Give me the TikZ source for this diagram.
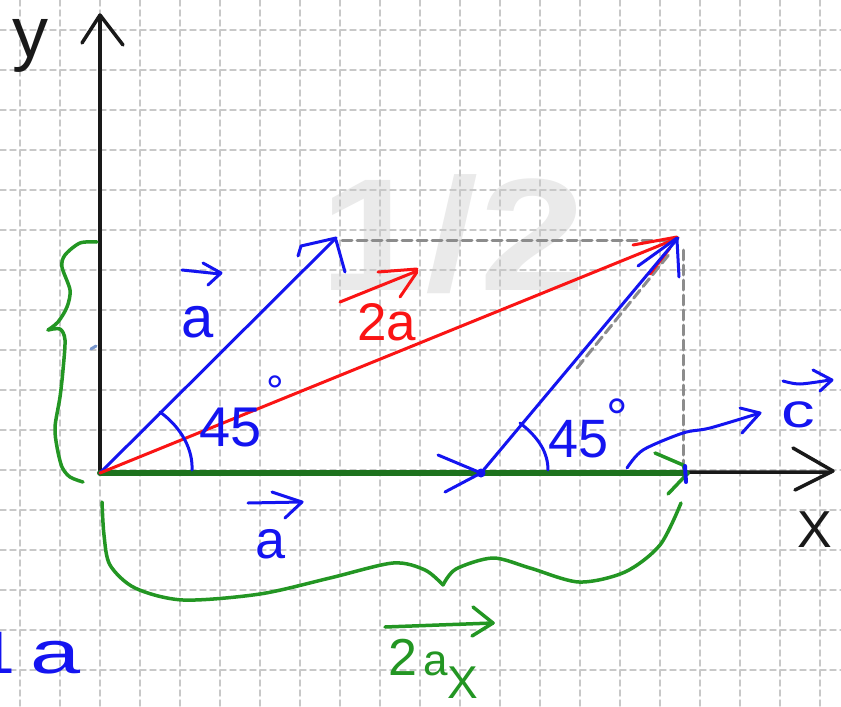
\documentclass[tikz,border=0pt]{standalone}
\usepackage{fontspec}
\setmainfont{Liberation Sans}
\definecolor{pblue}{RGB}{20,20,240}
\definecolor{pred}{RGB}{250,20,20}
\definecolor{pgreen}{RGB}{35,150,35}
\definecolor{pgreendk}{RGB}{30,115,30}
\definecolor{paxis}{RGB}{25,25,25}
\definecolor{pgrid}{RGB}{200,200,200}
\definecolor{pcons}{RGB}{140,140,140}
\definecolor{pwm}{RGB}{234,234,234}
\definecolor{ptick}{RGB}{120,150,205}
\tikzset{
  gridline/.style={draw=pgrid, line width=1.4pt, dash pattern=on 6pt off 4pt},
  cons/.style={draw=pcons, line width=3pt, dash pattern=on 10pt off 5pt},
  axisline/.style={draw=paxis, line width=3.5pt},
  bl/.style={draw=pblue, line width=3pt},
  rd/.style={draw=pred, line width=3pt},
  gr/.style={draw=pgreen, line width=3.5pt},
  grthick/.style={draw=pgreendk, line width=6pt},
  lbl/.style={inner sep=0pt, anchor=base west},
}
\newcommand{\fs}[1]{\fontsize{#1}{#1}\selectfont}
\begin{document}
\begin{tikzpicture}[x=1pt, y=-1pt, line cap=round, line join=round]
\useasboundingbox (0,0) rectangle (841,707);
\clip (0,0) rectangle (841,707);
\fill[white] (0,0) rectangle (841,707);
% watermark
\node[lbl, font=\fs{160}\bfseries, text=pwm, xscale=1.2] (wm) at (319,290) {1/2};
% grid
\foreach \x in {20,60,...,820} \draw[gridline] (\x,0) -- (\x,707);
\foreach \y in {30,70,...,670} \draw[gridline] (0,\y) -- (841,\y);
% points
\coordinate (O) at (100,473);
\coordinate (A) at (336,238);
\coordinate (B) at (678,238);
\coordinate (M) at (481,473);
\coordinate (E) at (687,473);
\coordinate (Yt) at (100,18);
\coordinate (Xt) at (831,472);
\coordinate (h1) at (342,240);
\coordinate (h2) at (672,240);
\coordinate (v1) at (683,250);
\coordinate (v2) at (683,472);
\coordinate (d1) at (577,368);
\coordinate (d2) at (671,252);
% construction lines
\draw[cons] (h1) -- (h2);
\draw[cons] (v1) -- (v2);
\draw[cons] (d1) -- (d2);
% axes
\draw[axisline] (O) -- (Yt);
\draw[axisline] (82,43) -- (100,15) -- (123,45);
\draw[axisline] (O) -- (Xt);
\draw[axisline] (793,448) -- (833,471) -- (795,490);
% green resultant along x
\draw[grthick] (O) -- (E);
\draw[gr] (655,453) -- (683,465) -- (687,474) -- (668,494);
\draw[draw=pblue, line width=4pt] (685,466) -- (686,482);
% blue a along x (arrow head at M)
\draw[bl] (438,455) -- (M) -- (445,492);
\fill[pblue] (M) circle (4.5);
% blue a from origin
\draw[bl] (O) -- (A);
\draw[bl] (298,256) -- (301,246) -- (336,238);
\draw[bl] (336,240) -- (345,272);
% red 2a
\draw[rd] (O) -- (B);
\draw[rd] (633,245) -- (677,237);
\draw[rd] (650,274) -- (670,248);
% blue a from M
\draw[bl] (M) -- (B);
\draw[bl] (638,266) -- (677,238);
\draw[bl] (677,240) -- (679,277);
% angle arcs
\draw[bl] (160,412) .. controls (182,428) and (193,450) .. (192,470);
\draw[bl] (520,423) .. controls (538,437) and (548,452) .. (548,470);
% angle labels
\node[lbl, font=\fs{56}, text=pblue] (ang1) at (199,446) {45};
\node[inner sep=0pt, anchor=north west, font=\fs{44}, text=pblue] (deg1) at (266,376) {°};
\node[lbl, font=\fs{54}, text=pblue] (ang2) at (548,457) {45};
\node[inner sep=0pt, anchor=north west, font=\fs{54}, text=pblue] (deg2) at (606,399) {°};
% blue a label (upper)
\node[lbl, font=\fs{58}, text=pblue] (la1) at (181,337) {a};
\draw[bl] (182,270) -- (220,274);
\draw[bl] (203,263) -- (221,273) -- (208,285);
% blue a label (lower)
\node[lbl, font=\fs{54}, text=pblue] (la2) at (255,558) {a};
\draw[bl] (248,503) -- (302,502);
\draw[bl] (272,492) -- (302,502) -- (285,518);
% red 2a label
\node[lbl, font=\fs{53}, text=pred] (l2a) at (357,340) {2a};
\draw[rd] (340,302) -- (417,271);
\draw[rd] (378,272) -- (417,269);
\draw[rd] (400,297) -- (417,272);
% c vector
\draw[bl] plot[smooth] coordinates {(627,468) (643,450) (683,433) (710,428) (760,413)};
\draw[bl] (740,408) -- (760,413) -- (742,433);
\node[lbl, font=\fs{48}, text=pblue, xscale=1.4] (lc) at (781,427) {c};
\draw[bl] plot[smooth] coordinates {(783,381) (800,384) (830,380)};
\draw[bl] (813,370) -- (832,380) -- (820,391);
% left green brace
\draw[gr] plot[smooth] coordinates {(97,242) (80,243) (65,255) (62,267) (70,290) (67,307) (58,322) (48,330)};
\draw[gr] plot[smooth] coordinates {(48,330) (60,329) (65,340) (63,370) (60,397) (55,427) (57,447) (62,467) (70,477) (83,482)};
\draw[draw=ptick, line width=3pt] (91,349) -- (96,346);
% bottom green brace
\draw[gr] plot[smooth] coordinates {(102,502) (104,535) (110,565) (135,588) (183,600) (260,594) (330,578) (393,563) (425,570) (443,585)};
\draw[gr] plot[smooth] coordinates {(443,585) (456,569) (493,558) (530,568) (579,582) (625,572) (660,545) (681,503)};
% 2a_x label
\draw[gr] (385,627) -- (493,623);
\draw[gr] (473,607) -- (493,623) -- (472,636);
\node[lbl, font=\fs{52}, text=pgreen] (l2ax) at (388,675) {2\hspace{6pt}{\fs{44}a}\raisebox{-23pt}{\fs{46}X}};
% 1a label
\node[lbl, font=\fs{60}, text=pblue] (l1a) at (-19,673) {1\hspace{16pt}\scalebox{1.5}[1]{a}};
% axis labels
\node[lbl, font=\fs{72}, text=paxis] (ly) at (12,57) {y};
\node[lbl, font=\fs{52}, text=paxis] (lx) at (797,547) {X};
\end{tikzpicture}
\end{document}
